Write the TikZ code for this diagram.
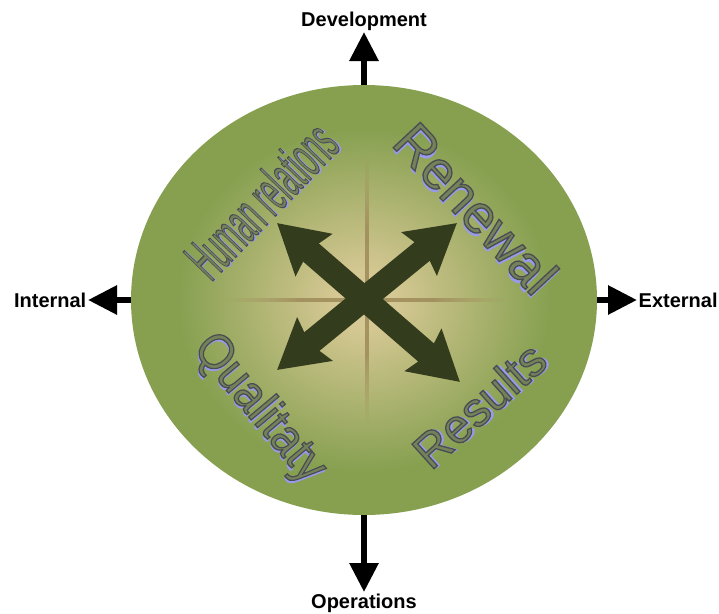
\documentclass[tikz,border=0pt]{standalone}
\usepackage{fontspec}
\setmainfont{Liberation Sans}
\usepackage{tikz}
\usetikzlibrary{arrows.meta,shapes.geometric,fadings}
\definecolor{sand}{RGB}{214,200,148}
\definecolor{moss}{RGB}{134,160,80}
\definecolor{ruletan}{RGB}{160,142,92}
\definecolor{bark}{RGB}{52,60,30}
\definecolor{leaf}{RGB}{116,130,90}
\definecolor{lilac}{RGB}{152,154,236}
% glow in the middle of the disc, thin rules fading out at both ends
\pgfdeclareradialshading{discglow}{\pgfpoint{0bp}{0bp}}{color(0bp)=(sand); color(3bp)=(sand);
  color(20bp)=(moss); color(50bp)=(moss)}
\pgfdeclarehorizontalshading{rulefadeh}{100bp}{color(0bp)=(transparent!100); color(25bp)=(transparent!100);
  color(38bp)=(transparent!10); color(62bp)=(transparent!10); color(75bp)=(transparent!100); color(100bp)=(transparent!100)}
\pgfdeclareverticalshading{rulefadev}{100bp}{color(0bp)=(transparent!100); color(25bp)=(transparent!100);
  color(38bp)=(transparent!10); color(62bp)=(transparent!10); color(75bp)=(transparent!100); color(100bp)=(transparent!100)}
\pgfdeclarefading{ruleh}{\pgfuseshading{rulefadeh}}
\pgfdeclarefading{rulev}{\pgfuseshading{rulefadev}}
% lilac drop shadow, then the word filled and stroked dark grey
\newcommand\artword[1]{\makebox[0pt][l]{\hspace{2.6pt}\raisebox{-2.6pt}{\textcolor{lilac}{#1}}}%
  \special{pdf:literal direct 0.29 0.30 0.32 RG 1.3 w 2 Tr}#1\special{pdf:literal direct 0 Tr}}
\tikzset{
  disc/.style={ellipse,inner sep=0pt,minimum width=466pt,minimum height=430pt,shade,shading=discglow},
  rulebar/.style={fill=ruletan},
  axis/.style={line width=6pt,-{Triangle[length=29pt,width=28pt]}},
  axislabel/.style={font=\bfseries\fontsize{20}{24}\selectfont,inner sep=1.5pt},
  cross/.style={bark,line width=24pt,
    {Stealth[length=48pt,width=54pt,inset=6pt]}-{Stealth[length=48pt,width=54pt,inset=6pt]}},
  wordart/.style={text=leaf,inner sep=0pt},
}

\begin{document}
\begin{tikzpicture}[x=1pt,y=-1pt]
  \useasboundingbox (0,0) rectangle (719,613);
  \node[disc] (disc) at (364,300) {};
  \fill[rulebar,path fading=ruleh] (227,298) rectangle (507,302);
  \fill[rulebar,path fading=rulev] (365,157) rectangle (369,423);

  \coordinate (nw) at (277,223);
  \coordinate (ne) at (457,223);
  \coordinate (sw) at (277,370);
  \coordinate (se) at (460,382);
  \draw[cross] (nw) -- (se);
  \draw[cross] (ne) -- (sw);

  \node[wordart,rotate=46,xscale=0.43,font=\fontsize{60}{66}\selectfont] (human) at (262,201) {\artword{Human relations}};
  \node[wordart,rotate=-47,font=\fontsize{54}{60}\selectfont] (renewal) at (475,209) {\artword{Renewal}};
  \node[wordart,rotate=42,font=\fontsize{48}{54}\selectfont] (results) at (480,406) {\artword{Results}};
  \node[wordart,rotate=-50,xscale=0.9,font=\fontsize{50}{56}\selectfont] (qualitaty) at (258,410) {\artword{Qualitaty}};

  \node[axislabel,anchor=south] (dev) at (364,32) {Development};
  \node[axislabel,anchor=north] (ops) at (364,592) {Operations};
  \node[axislabel,anchor=east] (int) at (88,300) {Internal};
  \node[axislabel,anchor=west] (ext) at (637,300) {External};
  \draw[axis] (disc.north) -- (dev.south);
  \draw[axis] (disc.south) -- (ops.north);
  \draw[axis] (disc.west) -- (int.east);
  \draw[axis] (disc.east) -- (ext.west);
\end{tikzpicture}
\end{document}
